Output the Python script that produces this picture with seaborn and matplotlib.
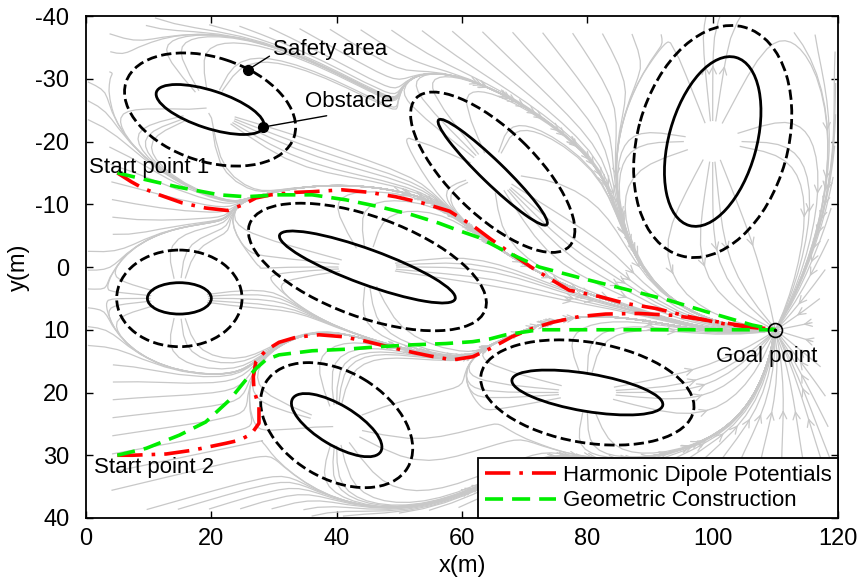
import numpy as np
import pandas as pd
import seaborn as sns
import matplotlib
matplotlib.use("Agg")
import matplotlib.pyplot as plt
from matplotlib.patches import Ellipse
from matplotlib.lines import Line2D

# --- obstacles (center, semi-axes, tilt in degrees) ---
obs_cx = [19.8, 44.9, 14.9, 64.9, 100.0, 40.0, 80.0]
obs_cy = [-25.1, 0.0, 5.0, -15.1, -20.0, 25.2, 20.0]
obs_a = [9.0, 14.9, 5.1, 12.0, 13.9, 8.2, 12.2]
obs_b = [3.0, 2.8, 2.5, 1.8, 7.0, 3.2, 3.0]
obs_ang = [18, 20, 0, 44, -74.5, 31, 9.5]
# safety areas around each obstacle
safe_a = [14.1, 20.0, 10.0, 17.0, 18.9, 13.2, 17.2]
safe_b = [8.3, 8.0, 7.7, 6.8, 12.0, 8.5, 8.0]

goal = (110, 10)

# --- paths ---
hdp1_x = [5, 7.2, 9.0, 11.7, 15.4, 19.1, 22.6, 25.0, 27.1, 29.5, 33.5, 36.1, 40.9, 45.2, 49.4,
          53.7, 58.0, 61.7, 64.5, 67.5, 71.0, 74.4, 77.1, 81.9, 86.1, 90.9, 96.2, 101.5, 106.0, 110]
hdp1_y = [-15, -13.6, -12.6, -11.5, -10.2, -9.4, -9.0, -9.9, -11.0, -11.5, -11.9, -12.0, -12.3, -11.9, -11.2,
          -10.2, -8.9, -6.6, -4.5, -2.4, 0.0, 2.1, 3.7, 4.7, 5.8, 6.6, 7.9, 9.0, 9.6, 10]
geo1_x = [5, 9.6, 14.9, 21.3, 25.5, 30.8, 36.1, 41.5, 46.8, 52.1, 56.3, 59.5, 62.7, 67.5, 72.3,
          79.5, 87.5, 93.0, 98.9, 106.3, 110]
geo1_y = [-15, -13.9, -12.7, -11.5, -11.2, -11.5, -11.5, -10.7, -9.6, -8.3, -7.0, -5.8, -4.7, -2.2, 0.0,
          1.9, 3.9, 5.3, 7.1, 9.25, 10]
hdp2_x = [5, 7.4, 12.8, 17.0, 22.3, 24.5, 26.4, 27.6, 27.6, 26.8, 26.7, 27.1, 28.7, 30.8, 33.5, 37.2,
          40.9, 44.5, 47.8, 52.1, 55.0, 58.5, 61.7, 64.5, 68.0, 71.2, 74.5, 78.7, 82.9, 88.2, 93.6,
          98.9, 104.2, 110]
hdp2_y = [30, 30, 29.8, 29.2, 28.1, 27.6, 26.6, 24.9, 22.3, 19.6, 17.5, 15.1, 13.3, 12.0, 11.2, 10.8,
          11.1, 11.8, 12.6, 13.6, 14.2, 14.8, 14.3, 13.0, 11.1, 9.8, 8.8, 7.9, 7.5, 7.4, 7.7,
          8.45, 9.25, 10]
geo2_x = [5, 9.6, 14.9, 19.1, 22.9, 25.5, 27.1, 28.7, 30.8, 36.1, 41.5, 46.8, 52.1, 57.4, 61.7,
          64.3, 67.0, 72.3, 82.9, 93.6, 104.2, 110]
geo2_y = [30, 28.9, 26.8, 24.7, 21.2, 18.0, 16.2, 14.8, 14.0, 13.35, 13.1, 12.7, 12.4, 12.2, 11.9,
          11.5, 10.8, 10.0, 10.0, 10.0, 10.0, 10]

methods = ["Harmonic Dipole Potentials", "Geometric Construction"]

paths = pd.concat([
    pd.DataFrame({"x": hdp1_x, "y": hdp1_y, "method": methods[0], "path": "h1"}),
    pd.DataFrame({"x": hdp2_x, "y": hdp2_y, "method": methods[0], "path": "h2"}),
    pd.DataFrame({"x": geo1_x, "y": geo1_y, "method": methods[1], "path": "g1"}),
    pd.DataFrame({"x": geo2_x, "y": geo2_y, "method": methods[1], "path": "g2"}),
], ignore_index=True)

sns.set_theme(style="white", rc={
    "xtick.direction": "in", "ytick.direction": "in",
    "xtick.top": True, "ytick.right": True,
    "xtick.bottom": True, "ytick.left": True,
    "axes.edgecolor": "black", "axes.linewidth": 1.3,
    "axes.unicode_minus": False,
    "text.color": "black", "axes.labelcolor": "black",
    "xtick.color": "black", "ytick.color": "black",
})
plt.rcParams["font.family"] = ["Liberation Sans", "DejaVu Sans"]

red = "#ff0000"
green = "#00ee00"

fig = plt.figure(figsize=(8.59, 5.80), dpi=100)
ax = fig.add_axes([0.1001, 0.1069, 0.8755, 0.8655])

# --- vector field: attraction to goal + repulsion from obstacles ---
xs = np.linspace(0, 120, 241)
ys = np.linspace(-40, 40, 161)
X, Y = np.meshgrid(xs, ys)
dx, dy = goal[0] - X, goal[1] - Y
d = np.hypot(dx, dy) + 1e-6
U, V = dx / d, dy / d
for cx, cy, A, B, ang in zip(obs_cx, obs_cy, safe_a, safe_b, obs_ang):
    t = np.deg2rad(ang)
    px, py = X - cx, Y - cy
    u = np.cos(t) * px + np.sin(t) * py
    v = -np.sin(t) * px + np.cos(t) * py
    re = np.sqrt((u / A) ** 2 + (v / B) ** 2) + 1e-6
    r = np.hypot(px, py) + 1e-6
    k = 2.2 / re ** 5
    U += k * px / r
    V += k * py / r

# seeds: along the borders and on a small ring inside each obstacle
seeds = [(0.3, yy) for yy in np.arange(-38.5, 39, 3.0)]
seeds += [(xx, -39.7) for xx in np.arange(6, 119, 5.0)]
seeds += [(xx, 39.7) for xx in np.arange(6, 119, 5.0)]
seeds += [(119.7, yy) for yy in np.arange(-37, 39, 5.0)]
for cx, cy in zip(obs_cx, obs_cy):
    for th in np.linspace(0, 2 * np.pi, 16, endpoint=False):
        seeds.append((cx + 0.6 * np.cos(th), cy + 0.6 * np.sin(th)))
seeds = np.array(seeds)

stream_kw = dict(start_points=seeds, color="#c8c8c8", linewidth=0.9, arrowstyle="->",
                 arrowsize=1.3, broken_streamlines=False, integration_direction="forward",
                 zorder=1)
try:
    ax.streamplot(xs, ys, U, V, num_arrows=3, **stream_kw)
except TypeError:
    ax.streamplot(xs, ys, U, V, **stream_kw)

# --- obstacles and safety areas ---
for cx, cy, a, b, sa, sb, ang in zip(obs_cx, obs_cy, obs_a, obs_b, safe_a, safe_b, obs_ang):
    ax.add_patch(Ellipse((cx, cy), 2 * a, 2 * b, angle=ang, fill=False,
                         ec="black", lw=2.0, zorder=2))
    ax.add_patch(Ellipse((cx, cy), 2 * sa, 2 * sb, angle=ang, fill=False,
                         ec="black", lw=2.0, ls="--", zorder=2))

# --- paths ---
dash_styles = {methods[0]: (7, 2.5, 1, 2.5), methods[1]: (5, 2.5)}
sns.lineplot(data=paths, x="x", y="y", hue="method", style="method", units="path",
             estimator=None, sort=False, palette={methods[0]: red, methods[1]: green},
             dashes=dash_styles, lw=2.6, legend=False, ax=ax, zorder=3)

# goal marker
ax.plot(goal[0], goal[1], "o", ms=10, mfc="none", mec="black", mew=1.2, zorder=4)
ax.plot(goal[0], goal[1], ".", ms=3, color="black", zorder=4)

# annotations
fs = 16
ax.plot([25.8, 28.3], [-31.4, -22.3], "o", ms=7, color="black", zorder=4)
ax.annotate("Safety area", xy=(25.8, -31.4), xytext=(29.8, -34.6), fontsize=fs,
            va="center", ha="left", arrowprops=dict(arrowstyle="-", color="black", lw=1,
                                                   shrinkA=0, shrinkB=0, relpos=(0, 0.3)))
ax.annotate("Obstacle", xy=(28.3, -22.3), xytext=(35.0, -26.3), fontsize=fs,
            va="center", ha="left", arrowprops=dict(arrowstyle="-", color="black", lw=1,
                                                   shrinkA=0, shrinkB=0, relpos=(0.45, 0)))
ax.text(0.5, -15.9, "Start point 1", fontsize=fs, va="center", ha="left")
ax.text(1.3, 31.9, "Start point 2", fontsize=fs, va="center", ha="left")
ax.text(108.6, 14.2, "Goal point", fontsize=fs, va="center", ha="center")

ax.set_xlim(0, 120)
ax.set_ylim(40, -40)
ax.set_xticks(np.arange(0, 121, 20))
ax.set_yticks(np.arange(-40, 41, 10))
ax.tick_params(labelsize=17, length=5, width=1, color="black")
ax.tick_params(axis="y", pad=12)
ax.tick_params(axis="x", pad=7)
ax.set_xlabel("x(m)", fontsize=17, labelpad=4)
ax.set_ylabel("y(m)", fontsize=17, labelpad=4)

handles = [
    Line2D([], [], color=red, lw=2.6, dashes=dash_styles[methods[0]]),
    Line2D([], [], color=green, lw=2.6, dashes=dash_styles[methods[1]]),
]
leg = ax.legend(handles, methods, loc="lower right", fontsize=fs, frameon=True, fancybox=False,
                edgecolor="black", framealpha=1, borderaxespad=0, handlelength=3.2,
                handletextpad=0.3, borderpad=0.3, labelspacing=0.2)
leg.get_frame().set_linewidth(1.3)
leg.set_zorder(5)

fig.savefig("out.png", dpi=100)
